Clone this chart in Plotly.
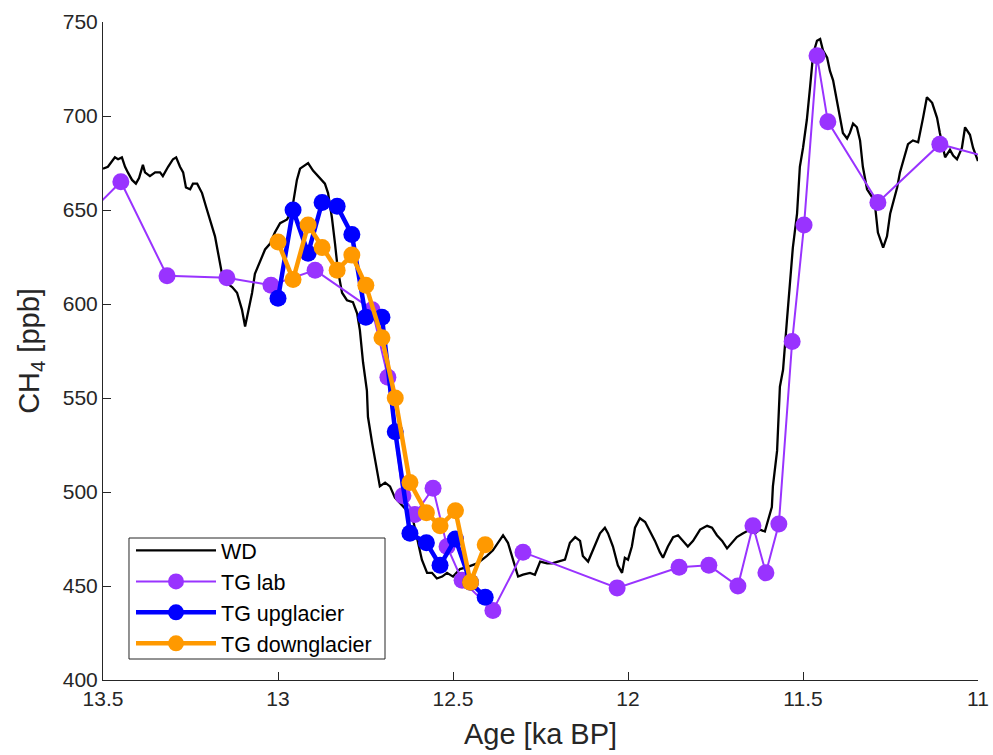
import plotly.graph_objects as go

# WD (WAIS Divide) CH4 record
wd_age = [13.5, 13.486, 13.466, 13.457, 13.446, 13.437, 13.429, 13.417, 13.406, 13.397,
          13.386, 13.38, 13.366, 13.351, 13.337, 13.329, 13.314, 13.3, 13.291, 13.28,
          13.271, 13.263, 13.251, 13.243, 13.231, 13.217, 13.206, 13.194, 13.18, 13.171,
          13.16, 13.146, 13.131, 13.117, 13.103, 13.094, 13.086, 13.074, 13.066, 13.051,
          13.037, 13.023, 13.009, 12.994, 12.974, 12.96, 12.946, 12.937, 12.914, 12.9,
          12.886, 12.871, 12.866, 12.857, 12.846, 12.837, 12.829, 12.817, 12.803, 12.786,
          12.774, 12.766, 12.757, 12.746, 12.743, 12.731, 12.723, 12.714, 12.709, 12.694,
          12.68, 12.666, 12.651, 12.631, 12.614, 12.603, 12.589, 12.574, 12.56, 12.546,
          12.531, 12.517, 12.5, 12.48, 12.46, 12.431, 12.403, 12.386, 12.371, 12.357,
          12.343, 12.329, 12.314, 12.3, 12.28, 12.266, 12.251, 12.231, 12.217, 12.2,
          12.18, 12.166, 12.151, 12.137, 12.129, 12.114, 12.1, 12.08, 12.066, 12.057,
          12.043, 12.029, 12.017, 12.009, 12.0, 11.989, 11.98, 11.966, 11.951, 11.937,
          11.923, 11.909, 11.9, 11.886, 11.871, 11.857, 11.843, 11.829, 11.814, 11.794,
          11.774, 11.76, 11.746, 11.731, 11.717, 11.703, 11.689, 11.671, 11.651, 11.637,
          11.623, 11.609, 11.6, 11.589, 11.586, 11.574, 11.566, 11.557, 11.546, 11.537,
          11.529, 11.517, 11.509, 11.5, 11.489, 11.48, 11.471, 11.46, 11.451, 11.443,
          11.431, 11.423, 11.414, 11.403, 11.394, 11.386, 11.374, 11.366, 11.357, 11.346,
          11.337, 11.329, 11.317, 11.303, 11.294, 11.286, 11.271, 11.26, 11.251, 11.243,
          11.231, 11.223, 11.209, 11.2, 11.186, 11.171, 11.157, 11.146, 11.131, 11.117,
          11.109, 11.094, 11.08, 11.071, 11.06, 11.046, 11.037, 11.023, 11.014, 11.0]
wd_ch4 = [672, 673, 678, 677, 678, 673, 670, 666, 664, 667,
          674, 670, 668, 670, 670, 668, 673, 677, 678, 673,
          670, 662, 661, 664, 664, 659, 652, 645, 636, 627,
          616, 611, 609, 606, 597, 588, 595, 606, 616, 623,
          629, 632, 638, 643, 645, 650, 666, 672, 675, 671,
          668, 665, 664, 659, 646, 632, 618, 606, 602, 601,
          595, 586, 569, 554, 540, 526, 517, 508, 503, 505,
          503, 497, 494, 490, 485, 476, 464, 457, 457, 454,
          455, 457, 455, 459, 460, 462, 466, 469, 473, 477,
          473, 464, 455, 456, 457, 456, 463, 462, 462, 463,
          464, 473, 476, 474, 466, 463, 469, 478, 481, 478,
          471, 461, 457, 465, 464, 471, 481, 486, 484, 479,
          474, 468, 465, 471, 476, 477, 474, 471, 474, 480,
          482, 481, 477, 474, 470, 473, 476, 478, 480, 478,
          480, 479, 485, 492, 503, 522, 556, 565, 591, 613,
          630, 648, 673, 683, 698, 715, 733, 740, 741, 735,
          731, 724, 719, 708, 698, 691, 688, 691, 696, 694,
          687, 673, 661, 657, 652, 638, 630, 636, 648, 654,
          662, 670, 680, 685, 687, 686, 699, 710, 707, 699,
          691, 678, 682, 679, 677, 683, 694, 690, 683, 676]

# Taylor Glacier (TG) lab measurements
lab_age = [13.6, 13.449, 13.317, 13.146, 13.02, 12.894, 12.731, 12.686, 12.643, 12.609,
           12.557, 12.517, 12.474, 12.386, 12.3, 12.031, 11.854, 11.769, 11.686, 11.643,
           11.606, 11.569, 11.531, 11.497, 11.46, 11.429, 11.286, 11.109, 10.95]
lab_ch4 = [637, 665, 615, 614, 610, 618, 597, 561, 498, 488,
           502, 471, 453, 437, 468, 449, 460, 461, 450, 482,
           457, 483, 580, 642, 732, 697, 654, 685, 677]

# TG field (upglacier / downglacier) measurements
field_age = [13.0, 12.957, 12.914, 12.874, 12.831, 12.789, 12.749, 12.703, 12.665, 12.623,
             12.576, 12.537, 12.493, 12.45, 12.408]
up_ch4 = [603, 650, 627, 654, 652, 637, 593, 593, 532, 478, 473, 461, 475, 452, 444]
down_ch4 = [633, 613, 642, 630, 618, 626, 610, 582, 550, 505, 489, 482, 490, 452, 472]

x_ticks = [13.5, 13, 12.5, 12, 11.5, 11]
x_tick_text = ["13.5", "13", "12.5", "12", "11.5", "11"]
y_ticks = [400, 450, 500, 550, 600, 650, 700, 750]

PURPLE = "rgb(153,51,255)"
BLUE = "rgb(0,0,255)"
ORANGE = "rgb(255,153,0)"
TXT = "rgb(38,38,38)"
FONT = "Liberation Sans, Arial, Helvetica, sans-serif"

fig = go.Figure()
fig.add_trace(go.Scatter(x=wd_age, y=wd_ch4, mode="lines", name="WD",
                         line=dict(color="black", width=2.3)))
fig.add_trace(go.Scatter(x=lab_age, y=lab_ch4, mode="lines+markers", name="TG lab",
                         line=dict(color=PURPLE, width=2),
                         marker=dict(color=PURPLE, size=17)))
fig.add_trace(go.Scatter(x=field_age, y=up_ch4, mode="lines+markers", name="TG upglacier",
                         line=dict(color=BLUE, width=4.5),
                         marker=dict(color=BLUE, size=17)))
fig.add_trace(go.Scatter(x=field_age, y=down_ch4, mode="lines+markers", name="TG downglacier",
                         line=dict(color=ORANGE, width=4.5),
                         marker=dict(color=ORANGE, size=17)))

# legend frame (white box with thin border), drawn under the legend entries
fig.add_shape(type="rect", xref="paper", yref="paper",
              x0=0.0297, x1=0.3223, y0=0.0319, y1=0.2158,
              line=dict(color=TXT, width=1), fillcolor="white", layer="above")

fig.update_layout(
    width=993, height=755,
    margin=dict(l=103, r=15, t=22, b=75),
    paper_bgcolor="white", plot_bgcolor="white",
    font=dict(family=FONT, size=21, color=TXT),
    showlegend=True,
    legend=dict(x=0.032, y=0.228, xanchor="left", yanchor="top",
                borderwidth=0, bgcolor="rgba(0,0,0,0)",
                font=dict(size=21.5, color="black"), itemwidth=80,
                tracegroupgap=0),
    xaxis=dict(range=[13.5, 11], autorange=False, automargin=False,
               tickvals=x_ticks, ticktext=x_tick_text,
               ticks="inside", ticklen=8, tickcolor=TXT, showline=True, linecolor=TXT,
               linewidth=1, showgrid=False, zeroline=False, mirror=False,
               title=dict(text="Age [ka BP]", font=dict(size=29, color=TXT), standoff=14)),
    yaxis=dict(range=[400, 750], autorange=False, automargin=False, tickvals=y_ticks,
               ticks="inside", ticklen=8, tickcolor=TXT, showline=True, linecolor=TXT,
               linewidth=1, showgrid=False, zeroline=False, mirror=False,
               title=dict(text="CH<sub>4</sub> [ppb]", font=dict(size=29, color=TXT), standoff=14)),
)

fig.write_html("out.html")
